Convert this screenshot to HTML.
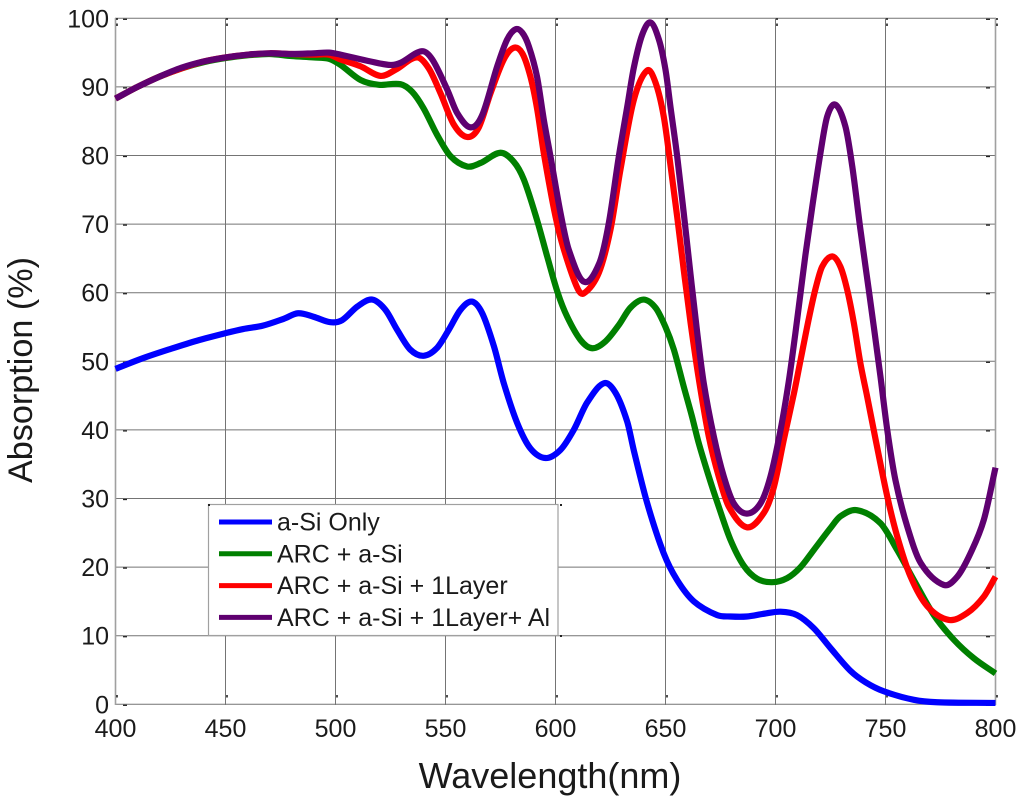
<!DOCTYPE html>
<html>
<head>
<meta charset="utf-8">
<title>Absorption vs Wavelength</title>
<style>
html,body{margin:0;padding:0;background:#fff;}
svg{display:block;}
text{font-family:"Liberation Sans",Arial,sans-serif;fill:#1a1a1a;}
</style>
</head>
<body>
<svg id="chart" width="1024" height="800" viewBox="0 0 1024 800" xmlns="http://www.w3.org/2000/svg">
  <rect x="0" y="0" width="1024" height="800" fill="#fff"/>
  <g id="grid"></g>
  <g id="ticks"></g>
  <g id="labels"></g>
  <g id="series"></g>
  <g>
    <rect x="208.5" y="504.5" width="349.5" height="131" fill="#fff" stroke="#a0a0a0" stroke-width="1.2"/>
    <g fill="#222">
      <rect x="208" y="504" width="2" height="2"/>
      <rect x="560" y="504" width="2" height="2"/>
      <rect x="560" y="635" width="2" height="2"/>
    </g>
    <g id="legend-items"></g>
  </g>
  <text x="0" y="0" transform="translate(32,370) rotate(-90)" text-anchor="middle" font-size="34.2">Absorption (%)</text>
  <text x="550" y="788" text-anchor="middle" font-size="36">Wavelength(nm)</text>
</svg>
<script>
const xTickLabels = [400, 450, 500, 550, 600, 650, 700, 750, 800];
const yTickLabels = [0, 10, 20, 30, 40, 50, 60, 70, 80, 90, 100];
const seriesNames = ["a-Si Only", "ARC + a-Si", "ARC + a-Si + 1Layer", "ARC + a-Si + 1Layer+ Al"];
const seriesColors = ["#0000ff", "#008000", "#ff0000", "#5f0070"];

const blueWl = [400,412,425,437,450,458,467,476.5,483,490,497.7,503,510,516.7,522.7,528,534,540,546,551.5,556.8,562,566.7,572,576.5,582.6,588.6,595.5,602.3,608.3,614.4,622,627.3,632.6,635.6,641.7,649.2,655.3,662.9,673.5,679.5,687,694.7,702.3,709.8,717.4,725,734,741,749.2,762.9,773.5,800];
const blueVal = [48.9,50.4,51.8,53,54.1,54.7,55.2,56.2,57,56.5,55.7,56,58,59,57.5,54.6,51.7,50.8,51.9,54.6,57.5,58.7,57,52.2,46.8,41,37.3,35.9,37.1,40,44,46.8,45.4,41.2,37,29.3,22,18.1,15,13,12.8,12.8,13.2,13.5,13,11.1,8.2,4.9,3.2,1.9,0.65,0.3,0.2];

const greenWl = [400,410,420,430,440,450,460,470,480,490,497,502.3,511.4,519.7,529.5,534.8,540,546.2,552.3,559.8,565.9,575,581,585.6,591.6,596.2,601,605.3,611.4,616.7,622.7,628.8,634,640,645.5,650,653.8,658.3,662,665,669.7,674,679.5,685.6,691.7,698.5,705.3,711.4,717.4,725,729.5,737,747.7,755.3,762.9,772,781.1,790.2,800];
const greenVal = [88.3,90,91.5,92.7,93.6,94.2,94.6,94.8,94.5,94.3,94.1,93.2,91,90.3,90.4,89.3,86.9,83,79.9,78.4,78.9,80.4,79.1,76.5,70.6,65.3,60,56.5,53.1,51.9,52.9,55.3,57.8,59,57.8,55,51.7,46.3,42,38.2,33.2,29,24,20.2,18.3,17.8,18.4,20,22.5,25.7,27.4,28.3,26.4,22.5,18.1,13,9.4,6.7,4.5];

const redWl = [400,410,420,430,440,450,460,470,480,490,497,502.3,511.4,520.5,527.3,537,542.4,547.7,553.8,559.8,565,570.5,576.5,581,584.9,588.6,591.7,594.7,600,603.8,609.9,612.9,619.7,625,629.5,635.6,641.7,645.5,649.2,652.3,655.3,658.3,661.4,665.2,669.7,674.2,678.8,687,694.7,699.2,703.8,708.5,711.4,715.2,718.2,721.2,725.8,729.5,732.6,735.6,738.6,741.7,745.5,750.8,755.3,761.4,769,778.8,787.1,794.7,800];
const redVal = [88.3,90,91.5,92.7,93.7,94.3,94.7,94.9,94.8,94.7,94.7,94,93,91.6,92.5,94.3,92.7,89.1,84.5,82.7,84,89.1,94,95.7,94.9,91.5,86.7,80.3,71.1,66.3,60.7,59.9,62.9,69.2,77.9,88.1,92.4,90.6,85.7,78.5,71.1,63.3,55.6,47.3,39,33.2,28.8,25.8,27.9,31.6,38.6,45.5,50.2,56.3,60.6,63.8,65.3,63.8,60.4,55.6,49.7,44.8,38.6,30.3,24.5,18.6,14.3,12.3,13.3,15.7,18.6];

const purpleWl = [400,410,420,430,440,450,460,470,480,490,497,502.3,516,525,529.5,539.3,544,550.8,555.3,561.4,566.7,573.5,578,581.8,584.9,587.9,591.6,594.7,597.7,602.3,606,612.9,619.9,624.2,628.8,632.6,635.6,639.4,643.2,647,650,652.3,655.3,658.3,661.4,664.4,667.4,672,676.5,681,687,693.2,697.7,702.3,706,709,711.4,713.6,716.7,720.5,723.5,727.3,731.8,734.9,738.6,742.4,744.7,747.7,750.8,754.5,759.9,766,776.5,782.6,788.6,794.7,800];
const purpleVal = [88.3,90,91.5,92.8,93.7,94.3,94.7,94.9,94.8,94.9,95,94.7,93.7,93.2,93.5,95.2,94,89.6,86.2,84.1,85.9,93,96.9,98.4,97.9,95.9,91.5,85.2,79.9,71.6,66.3,61.6,64.3,70.1,79.9,87.1,92.8,97.6,99.4,96.9,92.5,87,79.9,71.6,62.6,54.2,46.8,39,33.2,29.3,27.8,29.3,33.2,40,47,54,60,65.5,72.5,80.5,85.7,87.4,84.2,78.4,69.2,60.4,55,47.8,40,32.7,25.9,20.6,17.4,18.6,22,26.9,34.5];

const seriesWl = [blueWl, greenWl, redWl, purpleWl];
const seriesVal = [blueVal, greenVal, redVal, purpleVal];

const NS = "http://www.w3.org/2000/svg";
function xScale(w) { return 115.5 + (w - 400) * 880 / 400; }
function yScale(v) { return 704.3 - v * 686 / 100; }

function mk(tag, attrs, parent) {
  const el = document.createElementNS(NS, tag);
  for (const k in attrs) el.setAttribute(k, attrs[k]);
  parent.appendChild(el);
  return el;
}

function smoothPath(xs, ys) {
  const px = xs.map(xScale);
  const py = ys.map(yScale);
  const n = px.length;
  const slope = px.map(function (_, i) {
    const a = Math.max(i - 1, 0), b = Math.min(i + 1, n - 1);
    return (py[b] - py[a]) / (px[b] - px[a]);
  });
  let d = "M" + px[0].toFixed(2) + " " + py[0].toFixed(2);
  for (let i = 0; i < n - 1; i++) {
    const h = (px[i + 1] - px[i]) / 3;
    d += "C" + (px[i] + h).toFixed(2) + " " + (py[i] + slope[i] * h).toFixed(2) + " " +
      (px[i + 1] - h).toFixed(2) + " " + (py[i + 1] - slope[i + 1] * h).toFixed(2) + " " +
      px[i + 1].toFixed(2) + " " + py[i + 1].toFixed(2);
  }
  return d;
}

const gridG = document.getElementById("grid");
const ticksG = document.getElementById("ticks");
const labelsG = document.getElementById("labels");
const seriesG = document.getElementById("series");
const legendG = document.getElementById("legend-items");

yTickLabels.forEach(function (t) {
  const y = yScale(t);
  const line = mk("line", {x1: 115, x2: 996, y1: y, y2: y, stroke: "#747474", "stroke-width": 1}, gridG);
  
  

  const tkL = mk("line", {x1: 123, x2: 127, y1: y + 1, y2: y + 1, stroke: "#222", "stroke-width": 1.3}, ticksG);
  
  

  const tkR = mk("line", {x1: 986, x2: 990, y1: y + 1, y2: y + 1, stroke: "#222", "stroke-width": 1.3}, ticksG);
  
  

  const label = mk("text", {x: 109, y: y + 9, "text-anchor": "end", "font-size": 25}, labelsG);
  
  
  label.textContent = t;
});

xTickLabels.forEach(function (t) {
  const x = xScale(t);
  const isEdge = t === 400 || t === 800;
  const line = mk("line", {x1: x, x2: x, y1: 18, y2: 705, stroke: isEdge ? "#a0a0a0" : "#747474", "stroke-width": isEdge ? 1.6 : 1}, gridG);
  
  

  [[18, 20], [23.5, 26], [695, 697.5]].forEach(function (r) {
    const tk = mk("line", {x1: x + 1.5, x2: x + 1.5, y1: r[0], y2: r[1], stroke: "#222", "stroke-width": 1.6}, ticksG);
    
    
  });

  const label = mk("text", {x: x, y: 737, "text-anchor": "middle", "font-size": 25}, labelsG);
  
  
  label.textContent = t;
});

seriesNames.forEach(function (name, i) {
  const path = mk("path", {d: smoothPath(seriesWl[i], seriesVal[i]), fill: "none", stroke: seriesColors[i], "stroke-width": 6.2, "stroke-linejoin": "round"}, seriesG);
  
  

  const ly = 522 + i * 31.8;
  const swatch = mk("line", {x1: 219, x2: 272, y1: ly, y2: ly, stroke: seriesColors[i], "stroke-width": 5}, legendG);
  
  

  const text = mk("text", {x: 277, y: ly + 8.5, "font-size": 25}, legendG);
  
  
  text.textContent = name;
});
</script>
</body>
</html>
